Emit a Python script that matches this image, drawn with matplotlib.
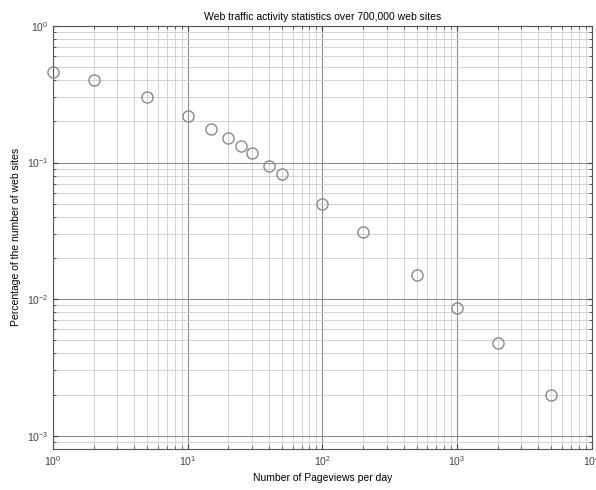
import matplotlib
matplotlib.use('Agg')
import matplotlib.pyplot as plt

# pageviews per day and share of web sites
pageviews = [1, 2, 5, 10, 15, 20, 25, 30, 40, 50, 100, 200, 500, 1000, 2000, 5000]
share = [0.46, 0.40, 0.30, 0.22, 0.177, 0.15, 0.133, 0.118, 0.095, 0.083,
         0.050, 0.031, 0.015, 0.0086, 0.0048, 0.0020]

plt.rcParams['font.family'] = 'Liberation Sans'
plt.rcParams['font.size'] = 7

fig = plt.figure(figsize=(5.96, 4.9), dpi=100)
ax = fig.add_axes([0.089, 0.084, 0.904, 0.863])

ax.loglog(pageviews, share, 'o', mfc='none', mec='#8a8a8a', ms=8, mew=1.0, clip_on=False, zorder=3)

ax.set_xlim(1, 1e4)
ax.set_ylim(8e-4, 1)
ax.grid(True, which='major', color='#8f8f8f', lw=0.8)
ax.grid(True, which='minor', color='#cccccc', lw=0.6)
ax.tick_params(which='both', direction='in', top=True, right=True, colors='#444444')
ax.tick_params(labelsize=7.5)
for s in ax.spines.values():
    s.set_color('#555555')

ax.set_title('Web traffic activity statistics over 700,000 web sites', fontsize=7.5, pad=4)
ax.set_xlabel('Number of Pageviews per day', fontsize=7.5)
ax.set_ylabel('Percentage of the number of web sites', fontsize=7.5)

fig.savefig('out.png', dpi=100)
